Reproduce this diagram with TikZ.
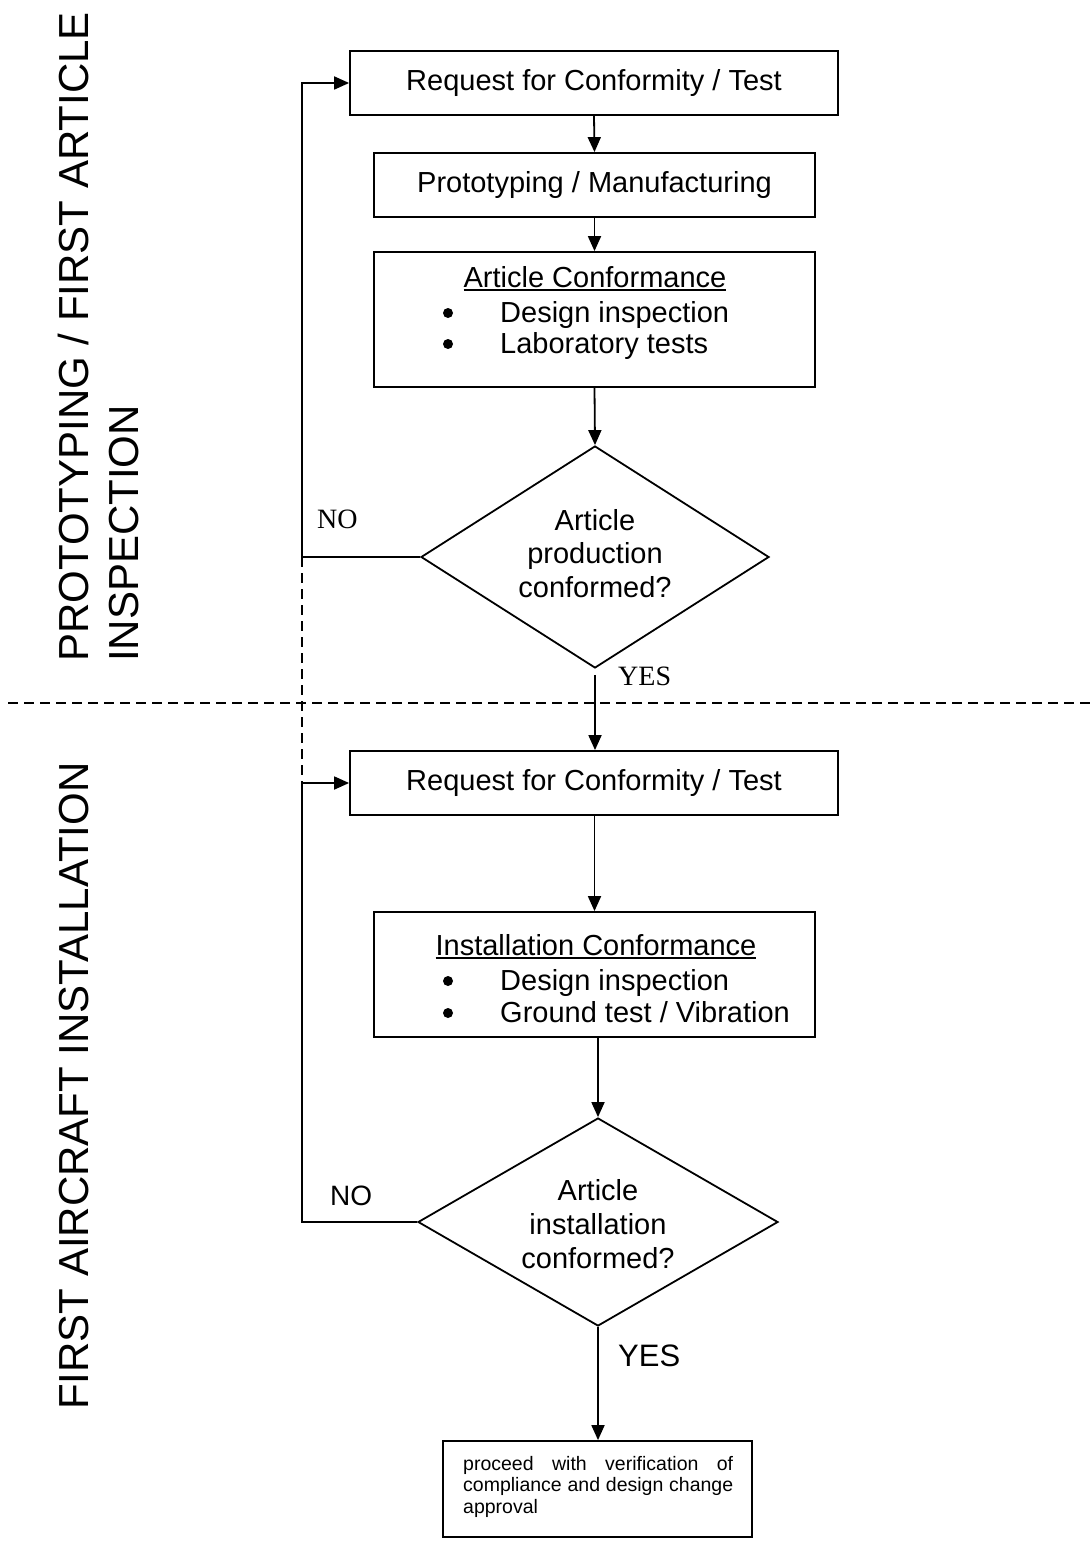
\documentclass[tikz,border=0pt]{standalone}
\usepackage{fontspec}
\setmainfont{Liberation Sans}
\newfontfamily\timesfont{Liberation Serif}
\usetikzlibrary{arrows.meta,shapes.geometric}

% underlined heading with a thick rule just below the baseline
\newcommand\ulhead[1]{\setbox0\hbox{#1}\rlap{\rule[-3.5pt]{\wd0}{1.8pt}}\box0}

\begin{document}
\begin{tikzpicture}[x=1pt,y=-1pt,
  box/.style={draw, line width=1.8pt, rectangle, inner sep=0pt,
              font=\fontsize{29}{34}\selectfont},
  decision/.style={draw, line width=1.8pt, diamond, inner sep=0pt},
  flow/.style={line width=1.8pt, -{Triangle[length=15pt,width=13pt]}},
  txt/.style={font=\fontsize{29}{34}\selectfont, inner sep=0pt, anchor=base},
  itemtxt/.style={font=\fontsize{29}{34}\selectfont, inner sep=0pt, anchor=base west},
  dot/.style={circle, fill, inner sep=0pt, minimum size=10pt},
  lane/.style={font=\fontsize{42}{50}\selectfont, inner sep=0pt, anchor=base west, rotate=90},
  sepline/.style={line width=1.4pt, dash pattern=on 10pt off 6pt}
]
\useasboundingbox (0,0) rectangle (1091,1541);

% ---------- lane titles ----------
\node[lane] (lane1a) at (88,662) {PROTOTYPING / FIRST ARTICLE};
\node[lane] (lane1b) at (138,662) {INSPECTION};
\node[lane] (lane2) at (88,1410) {FIRST AIRCRAFT INSTALLATION};

% ---------- lane separator ----------
\coordinate (sepL) at (8,703);
\coordinate (sepR) at (1091,703);
\draw[sepline] (sepL) -- (sepR);

% ---------- first article stage ----------
\node[box, minimum width=488, minimum height=64] (req1) at (594,83) {Request for Conformity / Test};
\node[box, minimum width=441, minimum height=64] (proto) at (594.5,185) {Prototyping / Manufacturing};
\node[box, minimum width=441, minimum height=135] (artconf) at (594.5,319.5) {};
\node[txt] (artconfT) at (595,287) {\ulhead{Article Conformance}};
\node[dot] (artB1) at (448,313) {};
\node[itemtxt] (artI1) at (500,322) {Design inspection};
\node[dot] (artB2) at (448,344) {};
\node[itemtxt] (artI2) at (500,353) {Laboratory tests};

\node[decision, minimum width=348, minimum height=222] (dec1) at (595,557) {};
\node[txt] (dec1a) at (595,530) {Article};
\node[txt] (dec1b) at (595,563) {production};
\node[txt] (dec1c) at (595,597) {conformed?};

\node[inner sep=0pt, anchor=base west, font=\timesfont\fontsize{28}{32}\selectfont] (no1) at (317,528) {NO};
\node[inner sep=0pt, anchor=base west, font=\timesfont\fontsize{28}{32}\selectfont] (yes1) at (618,685) {YES};

% ---------- installation stage ----------
\node[box, minimum width=488, minimum height=64] (req2) at (594,783) {Request for Conformity / Test};
\node[box, minimum width=441, minimum height=125] (instconf) at (594.5,974.5) {};
\node[txt] (instT) at (596,955) {\ulhead{Installation Conformance}};
\node[dot] (instB1) at (448,981) {};
\node[itemtxt] (instI1) at (500,990) {Design inspection};
\node[dot] (instB2) at (448,1013) {};
\node[itemtxt] (instI2) at (500,1022) {Ground test / Vibration};

\node[decision, minimum width=360, minimum height=208] (dec2) at (598,1222) {};
\node[txt] (dec2a) at (598,1200) {Article};
\node[txt] (dec2b) at (598,1234) {installation};
\node[txt] (dec2c) at (598,1268) {conformed?};

\node[inner sep=0pt, anchor=base west, font=\fontsize{28}{32}\selectfont] (no2) at (330,1205) {NO};
\node[inner sep=0pt, anchor=base west, font=\fontsize{31}{36}\selectfont] (yes2) at (618,1366) {YES};

\node[draw, line width=1.8pt, rectangle, inner sep=0pt, minimum width=309, minimum height=96] (final) at (597.5,1489) {};
\node[anchor=north west, inner sep=0pt, text width=270pt, align=justify,
      font=\fontsize{19.5}{21.5}\selectfont] (finalT) at (463,1455.8)
  {proceed with verification of\linebreak compliance and design change\linebreak approval};

% ---------- connectors ----------
\draw[flow] (req1.south) -- (proto.north);
\draw[flow] (proto.south) -- (artconf.north);
\draw[flow] (artconf.south) -- (dec1.north);
\draw[flow, shorten <=6pt] (dec1.south) -- (dec1.south |- req2.north);

\coordinate (loop1) at (302,557);
\coordinate (loop2) at (302,783);
\coordinate (loop3) at (302,1222);
\draw[flow] (dec1.west) -- (loop1) |- (req1.west);
\draw[sepline] (loop1) -- (loop2);
\draw[flow] (dec2.west) -- (loop3) -- (loop2) -- (req2.west);

\draw[flow] (req2.south -| instconf.north) -- (instconf.north);
\draw[flow] (598,1037) -- (dec2.north);
\draw[flow] (dec2.south) -- (final.north -| dec2.south);
\end{tikzpicture}
\end{document}
